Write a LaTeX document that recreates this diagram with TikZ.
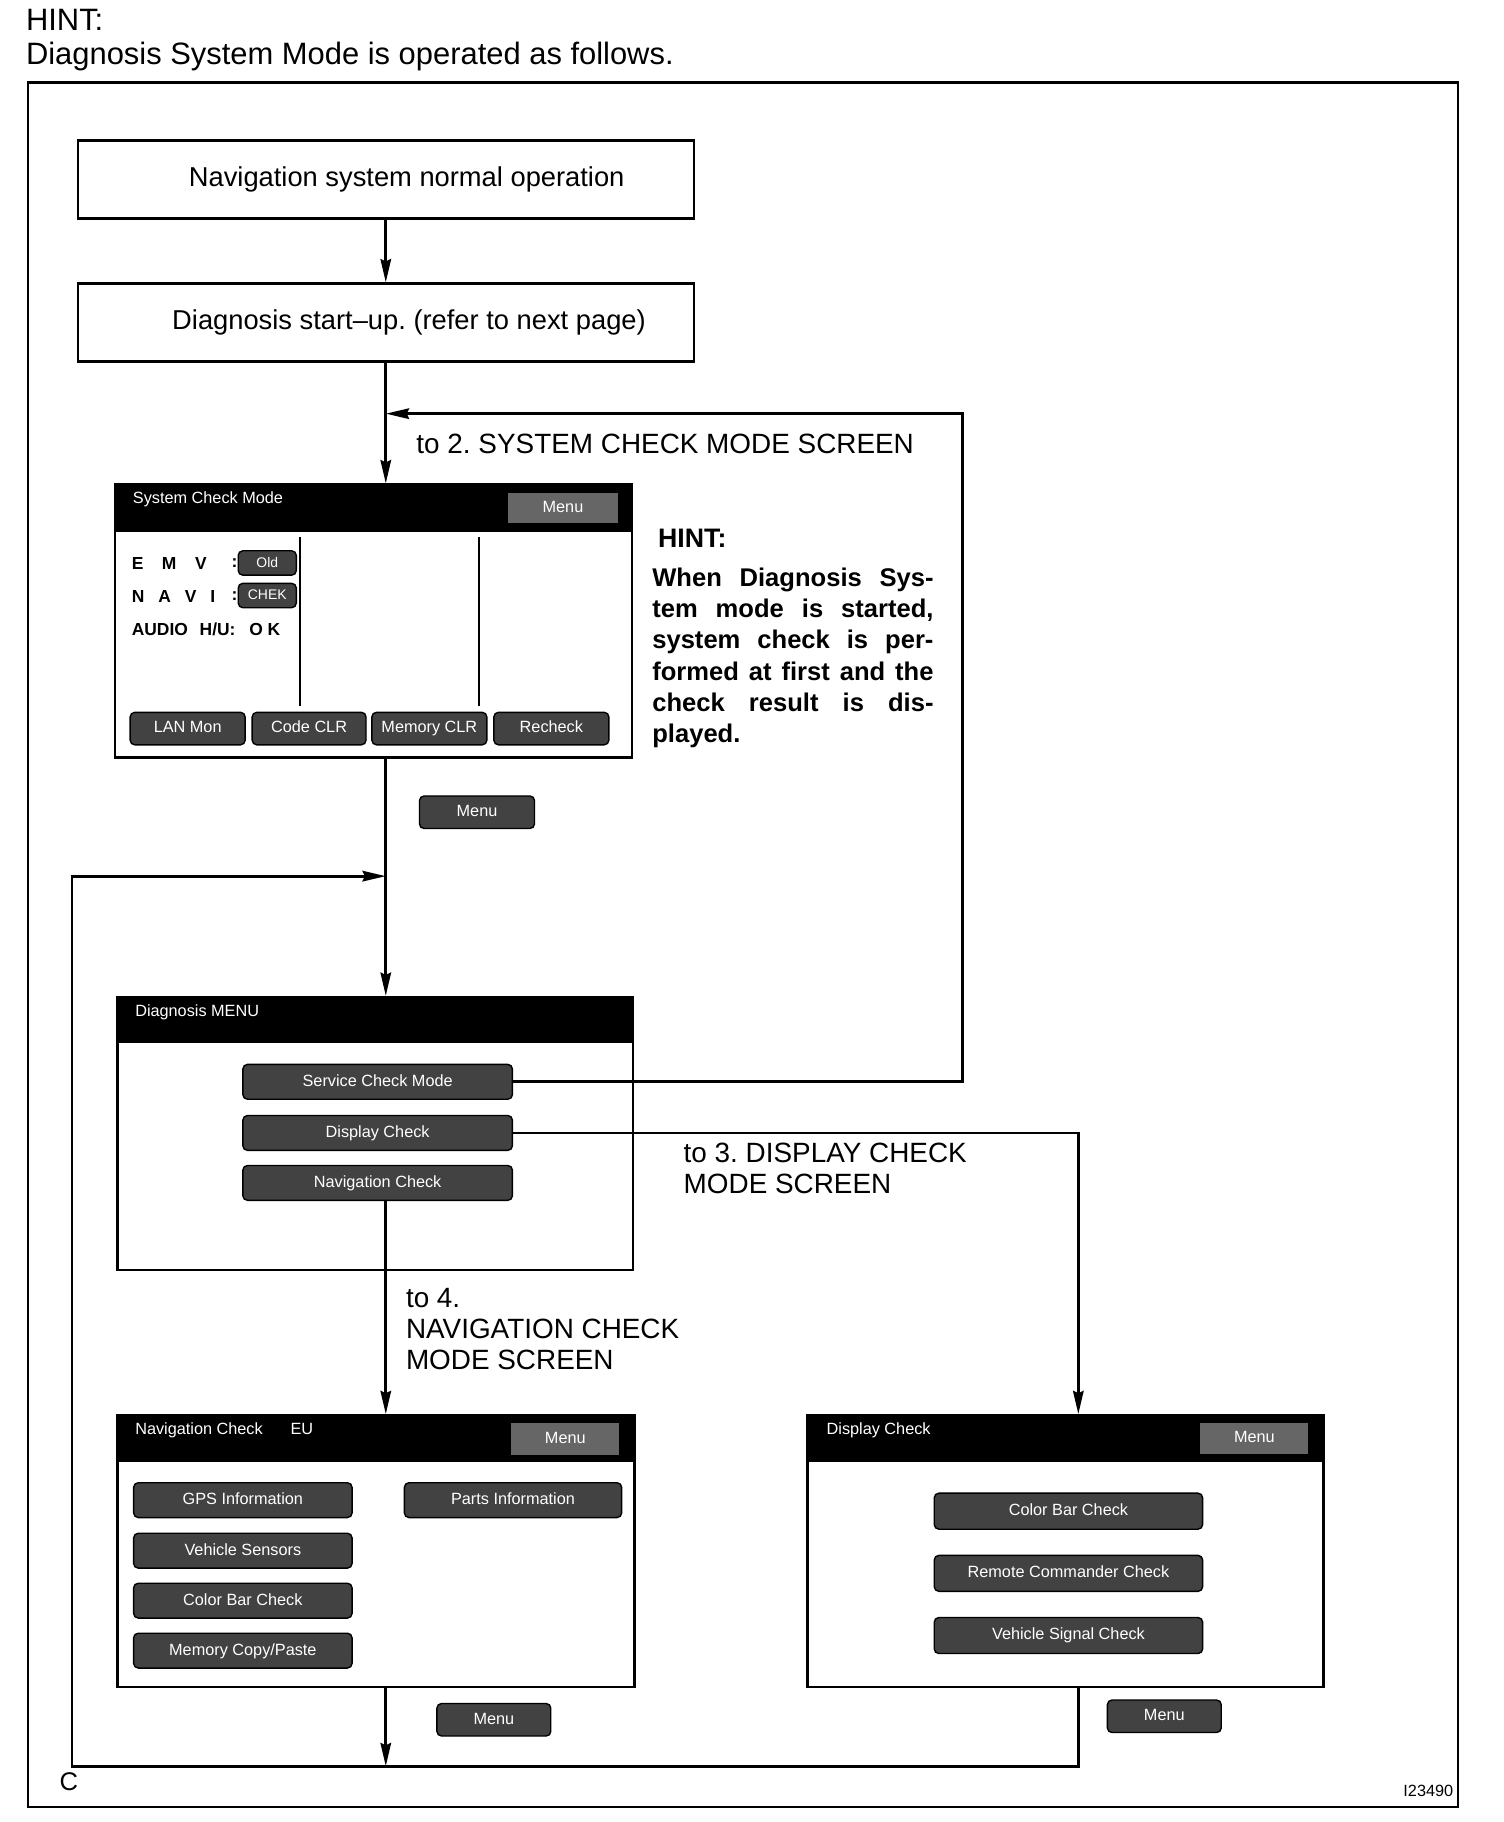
\documentclass[tikz,border=0pt]{standalone}
\usepackage{fontspec}
\setmainfont{Liberation Sans}
\usetikzlibrary{arrows.meta}
\frenchspacing
\begin{document}
\begin{tikzpicture}[x=0.5pt,y=-0.5pt,
  flow/.style={draw, line width=1pt, minimum width=265pt, minimum height=33.5pt, inner sep=0pt, font=\fontsize{11.75}{13.5}\selectfont},
  scr/.style={draw, line width=1pt, inner sep=0pt, minimum width=222.5pt, minimum height=117.5pt},
  btn/.style={draw=black, line width=0.6pt, fill=black!74, rounded corners=2pt, text=white, inner sep=0pt, text height=5.2pt, text depth=1.4pt, font=\fontsize{7}{8}\selectfont},
  mbtn/.style={fill=black!60, text=white, inner sep=0pt, text height=5.2pt, text depth=1.4pt, font=\fontsize{7}{8}\selectfont},
  conn/.style={line width=1.25pt},
  arr/.style={conn, -{Stealth[length=10pt,width=4.5pt,inset=1pt]}},
  lbl/.style={font=\fontsize{12}{13.5}\selectfont, inner sep=0pt, align=left},
  ttl/.style={text=white, inner sep=0pt, font=\fontsize{7}{8}\selectfont, anchor=west},
  stat/.style={inner sep=0pt, font=\bfseries\fontsize{7.5}{9}\selectfont, anchor=west},
]
\useasboundingbox (0,0) rectangle (1294,1568);

% heading
\node[anchor=west, inner sep=0pt, font=\fontsize{13.3}{15}\selectfont] (hint) at (22,17) {HINT:};
\node[anchor=west, inner sep=0pt, font=\fontsize{13.3}{15}\selectfont] (intro) at (22,49) {Diagnosis System Mode is operated as follows.};

% outer frame
\draw[line width=0.9pt] (24,71) rectangle (1255,1555);

% flow boxes
\node[flow] (box1) at (332,154.5) {\hspace*{18pt}Navigation system normal operation};
\node[flow] (box2) at (332,277.5) {\hspace*{20pt}Diagnosis start--up. (refer to next page)};

% ---------- System Check Mode screen ----------
\node[scr] (scm) at (321.5,534.5) {};
\fill (99,417) rectangle (544,458);
\node[ttl] (scmT) at (114,430) {System Check Mode};
\node[mbtn, minimum width=47.5pt, minimum height=13pt] (scmM) at (484.5,437) {Menu};
\draw[line width=1pt] (258,462) -- (258,608);
\draw[line width=1pt] (412,462) -- (412,608);
\node[stat] (emv) at (113,485) {E\hspace{8pt}M\hspace{8pt}V};
\node[stat] (emvc) at (199,485) {:};
\node[btn, minimum width=25pt, minimum height=10.5pt, font=\fontsize{6}{7}\selectfont] (old) at (230,484.5) {Old};
\node[stat] (navi) at (113,513) {N\hspace{6pt}A\hspace{6pt}V\hspace{6pt}I};
\node[stat] (navic) at (199,513) {:};
\node[btn, minimum width=25pt, minimum height=10.5pt, font=\fontsize{6}{7}\selectfont] (chek) at (230,512.5) {CHEK};
\node[stat] (audio) at (113,542) {AUDIO\hspace{3pt} H/U:\hspace{6pt}O\hspace{2pt}K};
\node[btn, minimum width=49.5pt, minimum height=14pt] (lan) at (161.5,627) {LAN Mon};
\node[btn, minimum width=49pt, minimum height=14pt] (ccl) at (266,627) {Code CLR};
\node[btn, minimum width=49.5pt, minimum height=14pt] (mcl) at (369.5,627) {Memory CLR};
\node[btn, minimum width=49.5pt, minimum height=14pt] (rck) at (474.5,627) {Recheck};

% hint block
\node[anchor=west, inner sep=0pt, font=\bfseries\fontsize{11.5}{13.5}\selectfont] (hint2) at (566,463) {HINT:};
\node[anchor=north west, inner sep=0pt, text width=121pt, font=\bfseries\fontsize{11}{13.5}\selectfont] (hinttxt) at (561,488) {%
\parindent=0pt
\noindent\hbox to \linewidth{When\hfill Diagnosis\hfill Sys-}\par
\noindent\hbox to \linewidth{tem\hfill mode\hfill is\hfill started,}\par
\noindent\hbox to \linewidth{system\hfill check\hfill is\hfill per-}\par
\noindent\hbox to \linewidth{formed\hfill at\hfill first\hfill and\hfill the}\par
\noindent\hbox to \linewidth{check\hfill result\hfill is\hfill dis-}\par
\noindent\hbox to \linewidth{played.\hfill}\par};

\node[btn, minimum width=49.5pt, minimum height=14pt] (m1) at (410.5,699) {Menu};

% ---------- Diagnosis MENU screen ----------
\node[scr, minimum width=222pt] (dm) at (323,975.5) {};
\fill (101,858) rectangle (545,898);
\node[ttl] (dmT) at (116,871) {Diagnosis MENU};
\node[btn, minimum width=116pt, minimum height=15pt] (svc) at (325,931) {Service Check Mode};
\node[btn, minimum width=116pt, minimum height=15pt] (dchk) at (325,975) {Display Check};
\node[btn, minimum width=116pt, minimum height=15pt] (nchk) at (325,1018) {Navigation Check};

% ---------- Navigation Check screen ----------
\node[scr, minimum height=117pt] (nav) at (323.5,1335) {};
\fill (101,1218) rectangle (546,1258);
\node[ttl] (navT) at (116,1231) {Navigation Check\hspace{12pt}EU};
\node[mbtn, minimum width=46.5pt, minimum height=13.5pt] (navM) at (486.5,1238.5) {Menu};
\node[btn, minimum width=94pt, minimum height=15pt] (gps) at (209,1291) {GPS Information};
\node[btn, minimum width=94pt, minimum height=15pt] (vsen) at (209,1334.5) {Vehicle Sensors};
\node[btn, minimum width=94pt, minimum height=15pt] (cbar1) at (209,1377.5) {Color Bar Check};
\node[btn, minimum width=94pt, minimum height=15pt] (mcp) at (209,1420.5) {Memory Copy/Paste};
\node[btn, minimum width=93.5pt, minimum height=15pt] (parts) at (441.5,1291) {Parts Information};
\node[btn, minimum width=49pt, minimum height=14pt] (m2) at (425,1480) {Menu};

% ---------- Display Check screen ----------
\node[scr, minimum width=222pt, minimum height=117pt] (dsp) at (917,1335) {};
\fill (695,1218) rectangle (1139,1258);
\node[ttl] (dspT) at (711,1231) {Display Check};
\node[mbtn, minimum width=46.5pt, minimum height=13pt] (dspM) at (1079.5,1238) {Menu};
\node[btn, minimum width=115.5pt, minimum height=15.5pt] (cbar2) at (919.5,1300.5) {Color Bar Check};
\node[btn, minimum width=115.5pt, minimum height=15.5pt] (rcc) at (919.5,1354) {Remote Commander Check};
\node[btn, minimum width=115.5pt, minimum height=15.5pt] (vsc) at (919.5,1407.5) {Vehicle Signal Check};
\node[btn, minimum width=49pt, minimum height=14pt] (m3) at (1002,1477) {Menu};

% ---------- connectors ----------
\coordinate (loopT) at (828,356);
\coordinate (dturn) at (928,977);
\coordinate (retBL) at (62,1520);
\coordinate (retTL) at (62,754);

\draw[arr] (box1.south) -- (box2.north);
\draw[arr] (box2.south) -- (box2.south |- scm.north);
\draw[arr] (svc.east) -| (loopT) -- (box2.south |- loopT);
\draw[arr] (box2.south |- scm.south) -- (box2.south |- dm.north);
\draw[arr] (dchk.east) -- (dchk.east -| dturn) -- (dturn |- dsp.north);
\draw[arr] (box2.south |- nchk.south) -- (box2.south |- nav.north);
\draw[arr] (box2.south |- nav.south) -- (box2.south |- retBL);
\draw[arr] (dturn |- dsp.south) -- (dturn |- retBL) -- (retBL) -- (retTL) -- (box2.south |- retTL);

% labels
\node[lbl, anchor=west] (l2) at (358,382) {to 2. SYSTEM CHECK MODE SCREEN};
\node[lbl, anchor=north west] (l3) at (588,983) {to 3. DISPLAY CHECK\\MODE SCREEN};
\node[lbl, anchor=north west] (l4) at (349,1108) {to 4.\\NAVIGATION CHECK\\MODE SCREEN};

\node[anchor=west, inner sep=0pt, font=\fontsize{11}{12}\selectfont] (cc) at (51,1533) {C};
\node[anchor=east, inner sep=0pt, font=\fontsize{7}{8}\selectfont] (fid) at (1251,1541) {I23490};
\end{tikzpicture}
\end{document}
